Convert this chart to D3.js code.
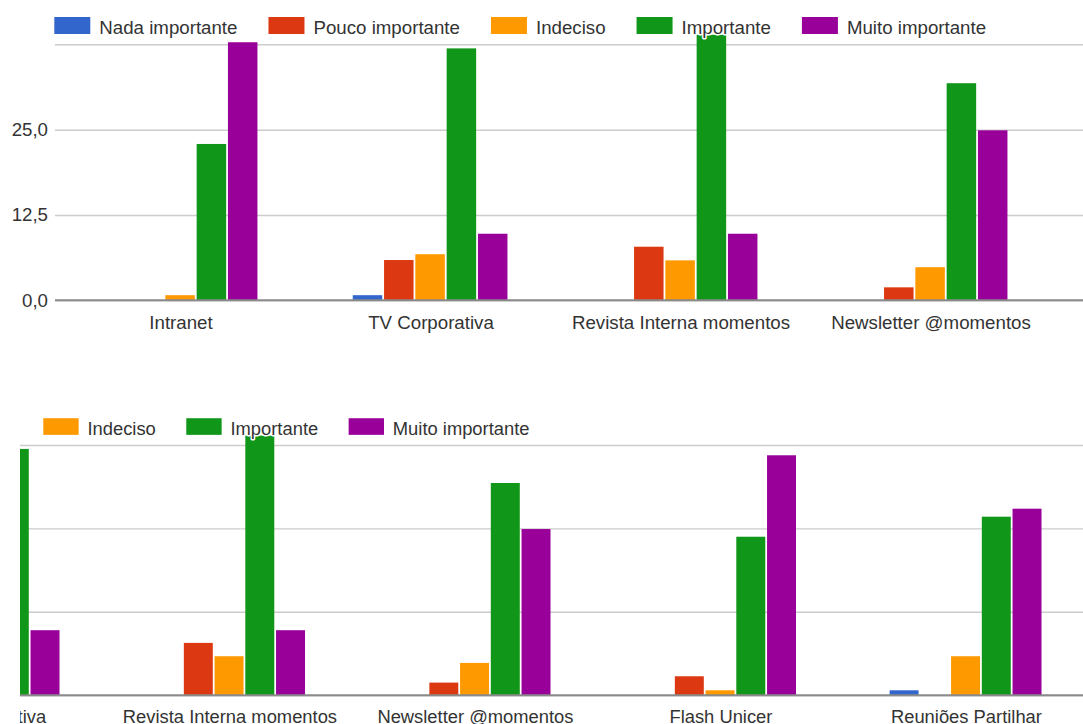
<!DOCTYPE html>
<html>
<head>
<meta charset="utf-8">
<script src="https://cdn.jsdelivr.net/npm/d3@7"></script>
<style>
  body { margin: 0; background: #fff; }
  svg { display: block; }
  text { font-family: "Liberation Sans", Arial, sans-serif; }
</style>
</head>
<body>
<svg id="chart" width="1083" height="724"></svg>
<script>
// Importance of each internal communication channel (grouped columns)
const categories = ["Intranet", "TV Corporativa", "Revista Interna momentos", "Newsletter @momentos", "Flash Unicer", "Reuniões Partilhar"];
const seriesNames = ["Nada importante", "Pouco importante", "Indeciso", "Importante", "Muito importante"];
const seriesColors = ["#3366cc", "#dc3912", "#ff9900", "#109618", "#990099"];

const nadaImportante  = [0,    0.75, 0,    0,    0,     0.75];
const poucoImportante = [0,    5.9,  7.85, 1.9,  2.85,  0];
const indeciso        = [0.75, 6.75, 5.85, 4.85, 0.75,  5.85];
const importante      = [22.9, 36.9, 38.9, 31.8, 23.75, 26.75];
const muitoImportante = [37.8, 9.75, 9.75, 24.9, 35.95, 27.95];

const gridTicks = [0, 12.5, 25, 37.5];
const labelTicks = [0, 12.5, 25];

const seriesValues = [nadaImportante, poucoImportante, indeciso, importante, muitoImportante];

const ptFormat = d3.formatLocale({ decimal: ",", thousands: ".", grouping: [3], currency: ["", ""] }).format(".1f");
const FONT = 18.7;

const svg = d3.select("#chart");
const defs = svg.append("defs");

// Draws the whole (wide) chart in its own coordinate space.
function drawChart(g) {
  const plotLeft = 56, step = 250;
  const x0 = d3.scaleBand()
    .domain(categories)
    .range([plotLeft, plotLeft + step * categories.length])
    .padding(0);
  const x1 = d3.scaleBand()
    .domain(seriesNames)
    .range([46.75, 46.75 + 154.7])
    .paddingInner(0.0575)
    .paddingOuter(0);
  const y = d3.scaleLinear().domain([0, 37.5]).range([300.3, 44.3]);
  const plotRight = plotLeft + step * categories.length;

  // gridlines
  g.append("g")
    .attr("transform", `translate(${plotLeft - 1},0)`)
    .call(d3.axisLeft(y).tickValues(gridTicks).tickSize(-(plotRight - plotLeft + 1)).tickFormat(""))
    .call(a => a.select(".domain").remove())
    .call(a => a.selectAll("line").attr("stroke", "#cccccc").attr("stroke-width", 1.5));

  // y tick labels
  g.append("g")
    .attr("transform", `translate(${plotLeft},0)`)
    .call(d3.axisLeft(y).tickValues(labelTicks).tickSize(0).tickPadding(8).tickFormat(ptFormat))
    .call(a => a.select(".domain").remove())
    .call(a => a.selectAll("text")
      .attr("font-size", FONT)
      .attr("font-family", "'Liberation Sans', Arial, sans-serif")
      .attr("fill", "#333"));

  // bars
  seriesNames.forEach((name, si) => {
    const rows = categories.map((c, ci) => ({ c, v: seriesValues[si][ci] })).filter(d => d.v > 0);
    g.append("g").attr("fill", seriesColors[si])
      .selectAll("rect")
      .data(rows)
      .join("rect")
      .attr("x", d => x0(d.c) + x1(name))
      .attr("width", x1.bandwidth())
      .attr("y", d => y(d.v))
      .attr("height", d => y(0) - y(d.v));
  });

  // baseline
  g.append("line")
    .attr("x1", plotLeft - 1).attr("x2", plotRight)
    .attr("y1", y(0)).attr("y2", y(0))
    .attr("stroke", "#8a8a8a").attr("stroke-width", 2);

  // category labels
  g.append("g")
    .attr("transform", `translate(0,${y(0)})`)
    .call(d3.axisBottom(x0).tickSize(0).tickPadding(15))
    .call(a => a.select(".domain").remove())
    .call(a => a.selectAll("text")
      .attr("font-size", FONT)
      .attr("font-family", "'Liberation Sans', Arial, sans-serif")
      .attr("fill", "#333"));

  // legend (drawn over the bars, text with a white halo)
  const legend = g.append("g");
  let lx = 54.3;
  seriesNames.forEach((name, si) => {
    legend.append("rect")
      .attr("x", lx).attr("y", 17)
      .attr("width", 36).attr("height", 17)
      .attr("fill", seriesColors[si]);
    const t = legend.append("text")
      .attr("x", lx + 45).attr("y", 34)
      .attr("font-size", FONT)
      .attr("fill", "#333")
      .attr("stroke", "#fff")
      .attr("stroke-width", 3)
      .attr("stroke-linejoin", "round")
      .attr("paint-order", "stroke")
      .text(name);
    lx += 45 + t.node().getComputedTextLength() + 31;
  });
}

// upper view: chart at the start of its scroll range
defs.append("clipPath").attr("id", "clipUpper")
  .append("rect").attr("x", 0).attr("y", 0).attr("width", 1083).attr("height", 370);
const upperView = svg.append("g").attr("clip-path", "url(#clipUpper)");
drawChart(upperView);

// lower view: same chart, slightly smaller, scrolled to the right
defs.append("clipPath").attr("id", "clipLower")
  .append("rect").attr("x", 20).attr("y", 400).attr("width", 1063).attr("height", 324);
const lowerView = svg.append("g").attr("clip-path", "url(#clipLower)")
  .append("g").attr("transform", "translate(-438.8,401.6) scale(0.982,0.978)");
drawChart(lowerView);
</script>
</body>
</html>
